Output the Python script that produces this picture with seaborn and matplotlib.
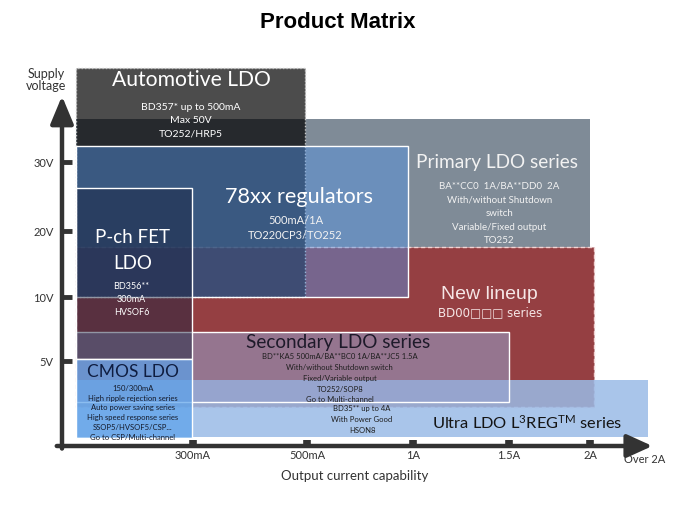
import numpy as np
import matplotlib
matplotlib.use("Agg")
import matplotlib.pyplot as plt
from matplotlib.colors import to_rgba
from matplotlib.patches import Rectangle
import seaborn as sns

# axis categories
X_TICK_LABELS = ["300mA", "500mA", "1A", "1.5A", "2A"]
Y_TICK_LABELS = ["5V", "10V", "20V", "30V"]

# product families, spans in tick units (x: current tick index, y: voltage tick index)
NAMES = ["Primary LDO", "New lineup", "Automotive LDO", "78xx regulators",
         "Ultra LDO", "Secondary LDO", "P-ch FET LDO", "CMOS LDO"]
X_FROM = [0.11, 0.11, 0.11, 0.11, 0.11, 0.11, 0.11, 0.11]
X_TO = [5.0, 5.06, 1.98, 2.95, 5.97, 4.0, 0.99, 0.99]
Y_FROM = [2.76, 0.46, 2.0, 2.0, 0.11, 0.52, 1.03, 0.09]
Y_TO = [4.63, 2.76, 5.38, 4.24, 0.78, 1.45, 3.62, 1.03]

# box text
AUTO_LINES = ["BD357* up to 500mA", "Max 50V", "TO252/HRP5"]
REG78_LINES = ["500mA/1A", "TO220CP3/TO252"]
PRIMARY_LINES = ["BA**CC0  1A/BA**DD0  2A", "With/without Shutdown", "switch",
                 "Variable/Fixed output", "TO252"]
PCH_LINES = ["BD356**", "300mA", "HVSOF6"]
SECONDARY_LINES = ["BD**KA5 500mA/BA**BC0 1A/BA**JC5 1.5A", "With/without Shutdown switch",
                   "Fixed/Variable output", "TO252/SOP8", "Go to Multi-channel"]
ULTRA_LINES = ["BD35** up to 4A", "With Power Good", "HSON8"]
CMOS_LINES = ["150/300mA", "High ripple rejection series", "Auto power saving series",
              "High speed response series", "SSOP5/HVSOF5/CSP...", "Go to CSP/Multi-channel"]

# box styles: face colour, alpha, edge colour, edge style
STYLES = {
    "Primary LDO": ("#7f8b97", 1.0, "none", "-"),
    "New lineup": ("#953f42", 1.0, "#f2d4d4", (0, (3, 2))),
    "Automotive LDO": ("#000000", 0.70, "#c8c8c8", (0, (1, 1.5))),
    "78xx regulators": ("#5495e9", 0.45, "white", "-"),
    "Ultra LDO": ("#9abbe7", 0.85, "none", "-"),
    "Secondary LDO": ("#95a2cf", 0.55, "white", "-"),
    "P-ch FET LDO": ("#17203e", 0.47, "white", "-"),
    "CMOS LDO": ("#5aa1ea", 0.70, "white", "-"),
}

# slide layout of the axis scales (tick index -> px)
X_IDX = [-1, 0, 1, 2, 3, 4, 5, 6, 7]
X_PIX = [-69, 62, 193, 307, 413, 509, 590, 650, 710]
Y_IDX = [-1, 0, 1, 2, 3, 4, 5, 6]
Y_PIX = [532, 447, 362, 298, 232, 163, 95, 27]


def fx(v):
    return np.interp(v, X_IDX, X_PIX)


def ix(t):
    return np.interp(t, X_PIX, X_IDX)


def fy(v):
    return -np.interp(v, Y_IDX, Y_PIX)


def iy(t):
    return np.interp(-np.asarray(t), Y_PIX[::-1], Y_IDX[::-1])


sns.set_theme(style="white")
plt.rcParams["font.family"] = ["Lato", "DejaVu Sans"]
plt.rcParams["mathtext.default"] = "regular"

W, H = 675, 506
fig = plt.figure(figsize=(W / 100, H / 100), dpi=100)
XLIM = (0, 6.2)
YLIM = (0, 5.5)
left, right = fx(XLIM[0]), fx(XLIM[1])
bottom, top = -fy(YLIM[0]), -fy(YLIM[1])
ax = fig.add_axes([left / W, 1 - bottom / H, (right - left) / W, (bottom - top) / H])
ax.set_xscale("function", functions=(fx, ix))
ax.set_yscale("function", functions=(fy, iy))
ax.set_xlim(*XLIM)
ax.set_ylim(*YLIM)
ax.patch.set_alpha(0)
for s in ax.spines.values():
    s.set_visible(False)

for z, (name, x0, x1, y0, y1) in enumerate(zip(NAMES, X_FROM, X_TO, Y_FROM, Y_TO)):
    face, alpha, edge, ls = STYLES[name]
    ax.add_patch(Rectangle((x0, y0), x1 - x0, y1 - y0, facecolor=to_rgba(face, alpha),
                           edgecolor=edge, linestyle=ls, linewidth=1.0, zorder=1 + z * 0.1))


def step_pt(px):
    return px * 72 / 100


def block(lines, x, y, step_px, size, color, family=None):
    for i, line in enumerate(lines):
        ax.annotate(line, xy=(x, y), xytext=(0, -i * step_pt(step_px)),
                    textcoords="offset points", ha="center", va="center",
                    fontsize=size, color=color, zorder=20,
                    family=family if family else ["Lato", "DejaVu Sans"])


block(["Automotive LDO"], 0.99, 5.22, 0, 15.2, "white")
block(AUTO_LINES, 0.98, 4.82, 13.5, 7.5, "white")
block(["78xx regulators"], 1.93, 3.51, 0, 15.6, "white")
block(REG78_LINES, 1.9, 3.17, 15, 8, "#f2f2f2")
block(["Primary LDO series"], 3.875, 4.01, 0, 13.7, "#f2f2f2")
block(PRIMARY_LINES, 3.9, 3.67, 13.75, 7, "#f2f2f2")
block(["P-ch FET", "LDO"], 0.54, 2.92, 26, 13.5, "white")
block(PCH_LINES, 0.53, 2.17, 13, 6.5, "white")
block(["New lineup"], 3.80, 2.05, 0, 14, "#f5e6e6", ["Liberation Sans", "DejaVu Sans"])
block(["BD00\u25a1\u25a1\u25a1 series"], 3.80, 1.77, 0, 8.5, "#f5e6e6", ["DejaVu Sans"])
block(["Secondary LDO series"], 2.29, 1.30, 0, 13.6, "#1e1a2a")
block(SECONDARY_LINES, 2.31, 1.08, 10.75, 5.5, "#1e1e1e")
block(ULTRA_LINES, 2.52, 0.45, 11, 5.5, "#1e1e1e")
block(["Ultra LDO L$^3$REG$^{TM}$ series"], 4.23, 0.29, 0, 11.8, "#141414")
block(["CMOS LDO"], 0.54, 0.88, 0, 12.5, "#0f1d40")
block(CMOS_LINES, 0.54, 0.69, 9.8, 5.5, "#141a2a")

# axes with arrowheads
AX_COL = "#333333"
ax.annotate("", xy=(0, 4.97), xytext=(0, -0.03),
            arrowprops=dict(arrowstyle="-|>,head_length=1.2,head_width=0.5", lw=3.2,
                            color=AX_COL, shrinkA=0, shrinkB=0, mutation_scale=14),
            annotation_clip=False, zorder=15)
ax.annotate("", xy=(6.04, 0), xytext=(-0.04, 0),
            arrowprops=dict(arrowstyle="-|>,head_length=1.1,head_width=0.5", lw=3.2,
                            color=AX_COL, shrinkA=0, shrinkB=0, mutation_scale=14),
            annotation_clip=False, zorder=15)

ax.set_xticks(range(1, len(X_TICK_LABELS) + 1), X_TICK_LABELS)
ax.set_yticks(range(1, len(Y_TICK_LABELS) + 1), Y_TICK_LABELS)
ax.tick_params(axis="x", bottom=True, direction="in", length=4.5, width=5.5, color=AX_COL,
               pad=2, labelsize=8, labelcolor=AX_COL)
ax.tick_params(axis="y", left=True, direction="in", length=7, width=3.5, color=AX_COL,
               pad=6, labelsize=8, labelcolor=AX_COL)

fig.text(338 / W, 1 - 22 / H, "Product Matrix", ha="center", va="center", fontsize=16,
         weight="bold", family=["Liberation Sans", "DejaVu Sans"], color="black")
fig.text(46 / W, 1 - 80 / H, "Supply\nvoltage", ha="center", va="center", fontsize=9,
         color=AX_COL, linespacing=1.1)
fig.text(355 / W, 1 - 476 / H, "Output current capability", ha="center", va="center",
         fontsize=9.5, color=AX_COL)
fig.text(645 / W, 1 - 460 / H, "Over 2A", ha="center", va="center", fontsize=8, color=AX_COL)

fig.savefig("out.png", dpi=100)
